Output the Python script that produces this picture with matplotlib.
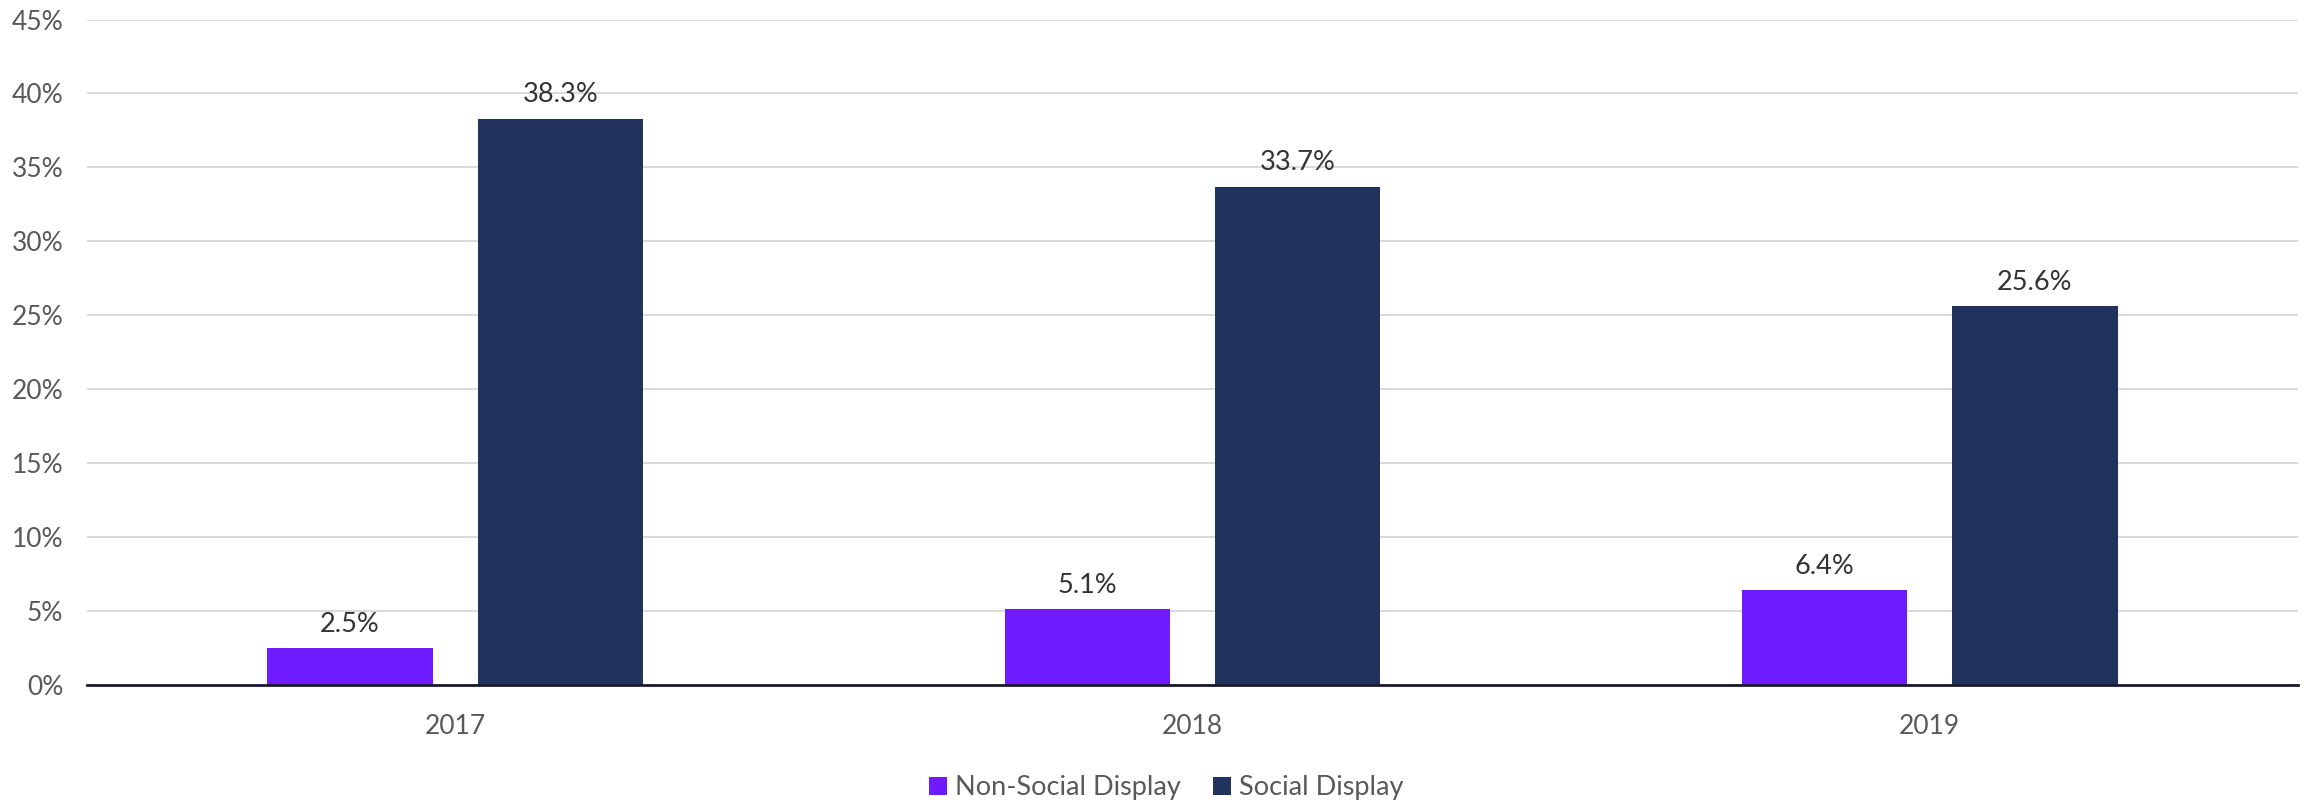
import numpy as np
import matplotlib
matplotlib.use("Agg")
import matplotlib.pyplot as plt
from matplotlib.patches import Patch

plt.rcParams['font.family'] = ['Lato', 'DejaVu Sans']

years = ['2017', '2018', '2019']
non_social = [2.5, 5.1, 6.4]
social = [38.3, 33.7, 25.6]
series_names = ['Non-Social Display', 'Social Display']

purple = '#6E1BFF'
navy = '#21325E'
tick_grey = '#595959'
label_dark = '#333333'

fig = plt.figure(figsize=(23.05, 8), dpi=100)
ax = fig.add_axes([0.0377, 0.144, 0.9593, 0.8316])

x = np.arange(len(years))
bw = 0.224
off = 0.143

b1 = ax.bar(x - off, non_social, width=bw, color=purple, zorder=3)
b2 = ax.bar(x + off, social, width=bw, color=navy, zorder=3)

for bars, vals in ((b1, non_social), (b2, social)):
    for rect, v in zip(bars, vals):
        ax.annotate('%.1f%%' % v, (rect.get_x() + rect.get_width()/2, v),
                    xytext=(0, 8), textcoords='offset points',
                    ha='center', va='bottom', fontsize=19.5, color=label_dark)

ax.set_xlim(-0.5, 2.5)
ax.set_ylim(0, 45)
ax.set_yticks(np.arange(0, 46, 5))
ax.set_yticklabels(['%d%%' % t for t in np.arange(0, 46, 5)])
ax.set_xticks(x)
ax.set_xticklabels(years)
ax.tick_params(axis='y', length=0, pad=17, labelsize=19, labelcolor=tick_grey)
ax.tick_params(axis='x', length=0, pad=21, labelsize=19, labelcolor=tick_grey)

ax.grid(axis='y', color='#d9d9d9', linewidth=1.4, zorder=0)
ax.set_axisbelow(True)
for s in ('top', 'right', 'left'):
    ax.spines[s].set_visible(False)
ax.spines['bottom'].set_color('#1a1a2e')
ax.spines['bottom'].set_linewidth(2)
ax.spines['bottom'].set_zorder(4)

handles = [Patch(facecolor=purple, label=series_names[0]),
           Patch(facecolor=navy, label=series_names[1])]
leg = fig.legend(handles=handles, loc='center', bbox_to_anchor=(0.506, 0.015),
                 ncol=2, frameon=False, fontsize=19.5, handlelength=0.65,
                 handleheight=0.65, handletextpad=0.3, columnspacing=1.2)
for t in leg.get_texts():
    t.set_color(tick_grey)

fig.savefig('out.png', dpi=100)
